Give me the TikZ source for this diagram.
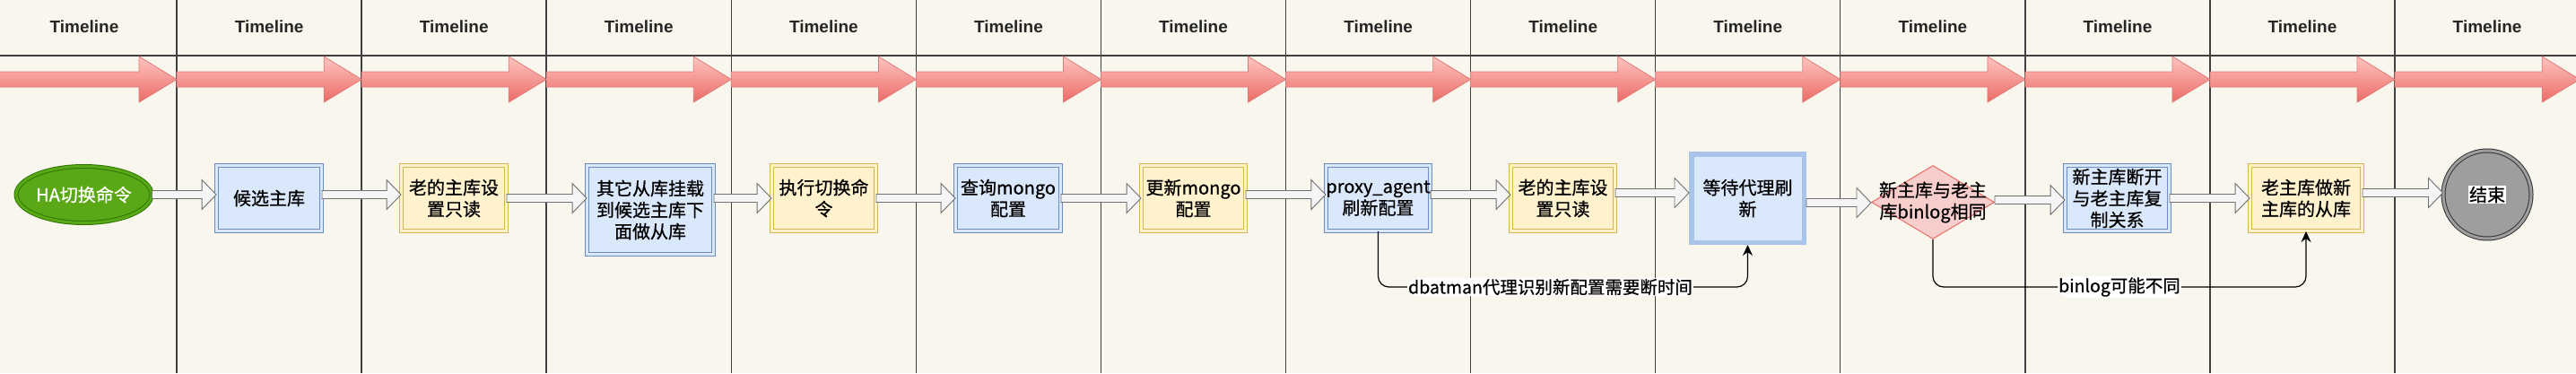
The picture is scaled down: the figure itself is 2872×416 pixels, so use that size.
\documentclass[tikz,border=0pt]{standalone}
\usepackage{fontspec}
\setmainfont{Noto Sans CJK SC}[RawFeature={embolden=0.7}]
\newfontfamily\tlfont{Liberation Sans}
\usetikzlibrary{shapes.geometric,arrows.meta,calc}
\definecolor{bgc}{RGB}{249,247,237}
\definecolor{laneC}{HTML}{404040}
\definecolor{blueF}{HTML}{DAE8FC}
\definecolor{blueS}{HTML}{6C8EBF}
\definecolor{blueT}{HTML}{A9C4EB}
\definecolor{yelF}{HTML}{FFF2CC}
\definecolor{yelS}{HTML}{D6B656}
\definecolor{redF}{HTML}{FFC4C2}
\definecolor{redG}{HTML}{EA6B66}
\definecolor{redS}{HTML}{E07B78}
\definecolor{diaF}{HTML}{F8CECC}
\definecolor{diaS}{HTML}{EA6B66}
\definecolor{greenF}{HTML}{5AA816}
\definecolor{greenS}{HTML}{2D7600}
\definecolor{endF}{HTML}{9E9E9E}
\definecolor{endS}{HTML}{333333}
\definecolor{arrF}{HTML}{F5F5F5}
\definecolor{arrS}{HTML}{707070}
\newcommand\blockarrow[3]{%
  \draw[blockarr] let \p1=(#1), \p2=(#2), \p3=(0,#3) in
    (\x1,\y3+4.5pt) -- (\x2-16pt,\y3+4.5pt) -- (\x2-16pt,\y3+16.5pt) -- (\x2,\y3)
    -- (\x2-16pt,\y3-16.5pt) -- (\x2-16pt,\y3-4.5pt) -- (\x1,\y3-4.5pt) -- cycle;}
\begin{document}
\begin{tikzpicture}[x=1pt,y=-1pt,font=\fontsize{20}{24}\selectfont,
  lane/.style={draw=laneC,line width=1.5pt},
  tl/.style={font=\tlfont\bfseries\fontsize{19}{22}\selectfont,text=black!85,anchor=base,inner sep=0pt},
  redarrow/.style={top color=redF,bottom color=redG,draw=redS,line width=0.8pt,line join=miter},
  box/.style={rectangle,line width=0.9pt,double distance=3pt,align=center,inner sep=0pt,text=black},
  bbox/.style={box,draw=blueS,double=blueF,fill=blueF},
  ybox/.style={box,draw=yelS,double=yelF,fill=yelF},
  blockarr/.style={draw=arrS,fill=arrF,line width=0.9pt,line join=miter},
  edgeline/.style={draw=black,line width=1.2pt,rounded corners=12pt,-{Stealth[length=12pt,width=11pt]}},
  elabel/.style={fill=white,inner sep=1pt,font=\fontsize{19.5}{22}\selectfont,text=black},
]
\fill[bgc] (0,0) rectangle (2872,416);
\useasboundingbox (0,0) rectangle (2872,416);
% swimlanes
\draw[lane] (0,62) -- (2872,62);
\foreach \k in {0,...,12}{
  \pgfmathsetmacro\X{197+206.08*\k}
  \draw[lane] (\X,0) -- (\X,416);
}
\foreach \k in {0,...,13}{
  \pgfmathsetmacro\C{-9+206.08*\k+103.04}
  \node[tl] (h\k) at (\C,36) {Timeline};
}
% red timeline arrows
\foreach \k in {0,...,13}{
  \pgfmathsetmacro\L{-9+206.08*\k}
  \pgfmathsetmacro\R{\L+206.08}
  \pgfmathsetmacro\H{\R-42}
  \draw[redarrow] (\L,80) -- (\H,80) -- (\H,63) -- (\R,88.5) -- (\H,114) -- (\H,97) -- (\L,97) -- cycle;
}
% nodes
\node[ellipse,draw=greenS,double=greenF,double distance=3pt,line width=1pt,fill=greenF,
      minimum width=132,minimum height=63,inner sep=0pt,text=white] (n1) at (93.5,217) {HA切换命令};
\node[bbox,minimum width=117,minimum height=73] (n2) at (300,221) {候选主库};
\node[ybox,minimum width=117,minimum height=73] (n3) at (506,221) {老的主库设\\置只读};
\node[bbox,minimum width=141,minimum height=99] (n4) at (725,234) {其它从库挂载\\到候选主库下\\面做从库};
\node[ybox,minimum width=116,minimum height=73] (n5) at (918.5,221) {执行切换命\\令};
\node[bbox,minimum width=117,minimum height=73] (n6) at (1124,221) {查询mongo\\配置};
\node[ybox,minimum width=116,minimum height=73] (n7) at (1330.5,221) {更新mongo\\配置};
\node[bbox,minimum width=116,minimum height=73] (n8) at (1536.5,221) {proxy\_agent\\刷新配置};
\node[ybox,minimum width=116,minimum height=73] (n9) at (1742.5,221) {老的主库设\\置只读};
\node[rectangle,draw=blueT,line width=5.5pt,fill=blueF,align=center,inner sep=0pt,
      minimum width=125.5,minimum height=98.5] (n10) at (1948.5,221) {等待代理刷\\新};
\node[diamond,draw=diaS,line width=1pt,fill=diaF,inner sep=0pt,minimum width=137,minimum height=82,
      label={[align=center,inner sep=0pt,text=black]center:新主库与老主\\库binlog相同}] (n11) at (2155,225.5) {};
\node[bbox,minimum width=116,minimum height=73] (n12) at (2360.5,221) {新主库断开\\与老主库复\\制关系};
\node[ybox,minimum width=125,minimum height=73] (n13) at (2571,221) {老主库做新\\主库的从库};
\node[circle,draw=endS,double=endF,double distance=3pt,line width=1pt,fill=endF,
      minimum size=98,inner sep=0pt,
      label={[fill=white,inner sep=1pt,text=black]center:结束}] (n14) at (2773,217) {};
% block connectors
\blockarrow{n1.east}{n2.west}{217}
\blockarrow{n2.east}{n3.west}{217}
\blockarrow{n3.east}{n4.west}{221}
\blockarrow{n4.east}{n5.west}{221}
\blockarrow{n5.east}{n6.west}{221}
\blockarrow{n6.east}{n7.west}{221}
\blockarrow{n7.east}{n8.west}{217}
\blockarrow{n8.east}{n9.west}{217}
\blockarrow{n9.east}{n10.west}{215}
\blockarrow{n10.east}{n11.west}{226}
\blockarrow{n11.east}{n12.west}{223}
\blockarrow{n12.east}{n13.west}{221}
\blockarrow{n13.east}{n14.west}{215}
% labelled edges
\draw[edgeline] (n8.south) |- node[elabel,pos=0.733] {dbatman代理识别新配置需要断时间} (n10.south |- 0,320) -- (n10.south);
\draw[edgeline] (n11.south) |- node[elabel,pos=0.75] {binlog可能不同} (n13.south |- 0,320) -- (n13.south);
\end{tikzpicture}
\end{document}
